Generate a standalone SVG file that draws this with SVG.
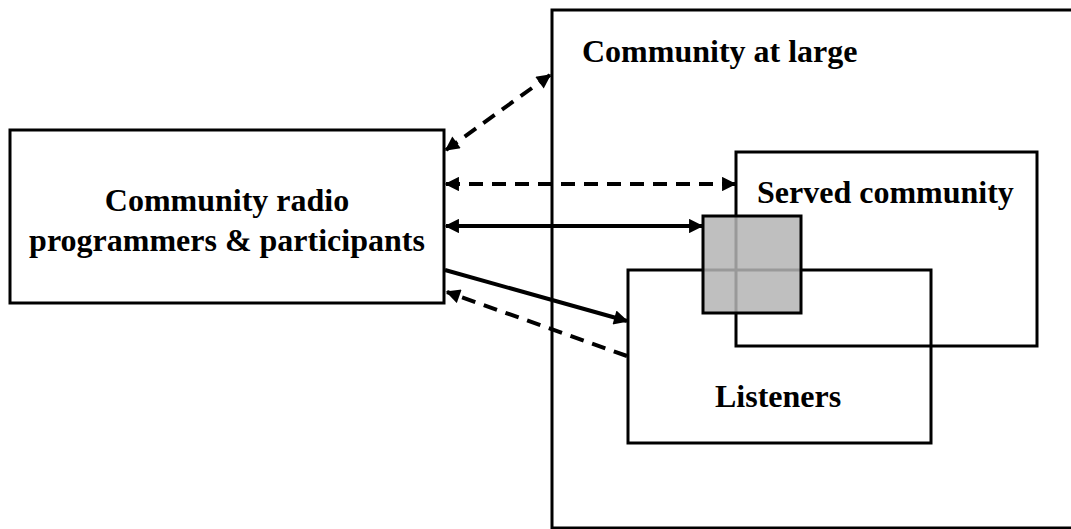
<svg xmlns="http://www.w3.org/2000/svg" width="1071" height="529" viewBox="0 0 1071 529">
  <style>
    .box { fill: #ffffff; stroke: #000000; stroke-width: 3; }
    .frame { fill: none; stroke: #000000; stroke-width: 3; }
    .label { font-family: "Liberation Serif", "Times New Roman", serif; font-weight: bold; font-size: 32px; fill: #000000; }
    .link { fill: none; stroke: #000000; stroke-width: 4; }
    .dashed { stroke-dasharray: 14 9; }
  </style>
  <defs>
    <marker id="head" viewBox="0 0 10 10" refX="9" refY="5" markerWidth="4.2" markerHeight="3.6" orient="auto-start-reverse" markerUnits="strokeWidth">
      <path d="M0,0 L10,5 L0,10 Z" fill="#000000"/>
    </marker>
  </defs>
  <rect width="1071" height="529" fill="#ffffff"/>

  <g id="community-at-large">
    <rect class="box" x="552" y="10" width="540" height="518"/>
    <text class="label" x="582" y="62">Community at large</text>
  </g>

  <g id="served-community">
    <rect class="frame" x="736" y="152" width="301" height="194"/>
    <text class="label" x="757" y="203">Served community</text>
  </g>

  <g id="listeners">
    <rect class="frame" x="628" y="270" width="303" height="173"/>
    <text class="label" x="715" y="407">Listeners</text>
  </g>

  <g id="overlap">
    <rect x="703" y="216" width="98" height="97" fill="#b4b4b4" fill-opacity="0.85" stroke="#000000" stroke-width="3"/>
  </g>

  <g id="radio-programmers">
    <rect class="box" x="10" y="130" width="434" height="173"/>
    <text class="label" x="227" y="211" text-anchor="middle">Community radio</text>
    <text class="label" x="227" y="251" text-anchor="middle">programmers &amp; participants</text>
  </g>

  <g id="connectors">
    <line class="link dashed" x1="446" y1="150" x2="550" y2="75" marker-start="url(#head)" marker-end="url(#head)"/>
    <line class="link dashed" x1="446" y1="184" x2="735" y2="184" marker-start="url(#head)" marker-end="url(#head)"/>
    <line class="link" x1="446" y1="226" x2="702" y2="226" marker-start="url(#head)" marker-end="url(#head)"/>
    <line class="link" x1="445" y1="270" x2="627" y2="321" marker-end="url(#head)"/>
    <line class="link dashed" x1="627" y1="356" x2="447" y2="292" marker-end="url(#head)"/>
  </g>
</svg>
